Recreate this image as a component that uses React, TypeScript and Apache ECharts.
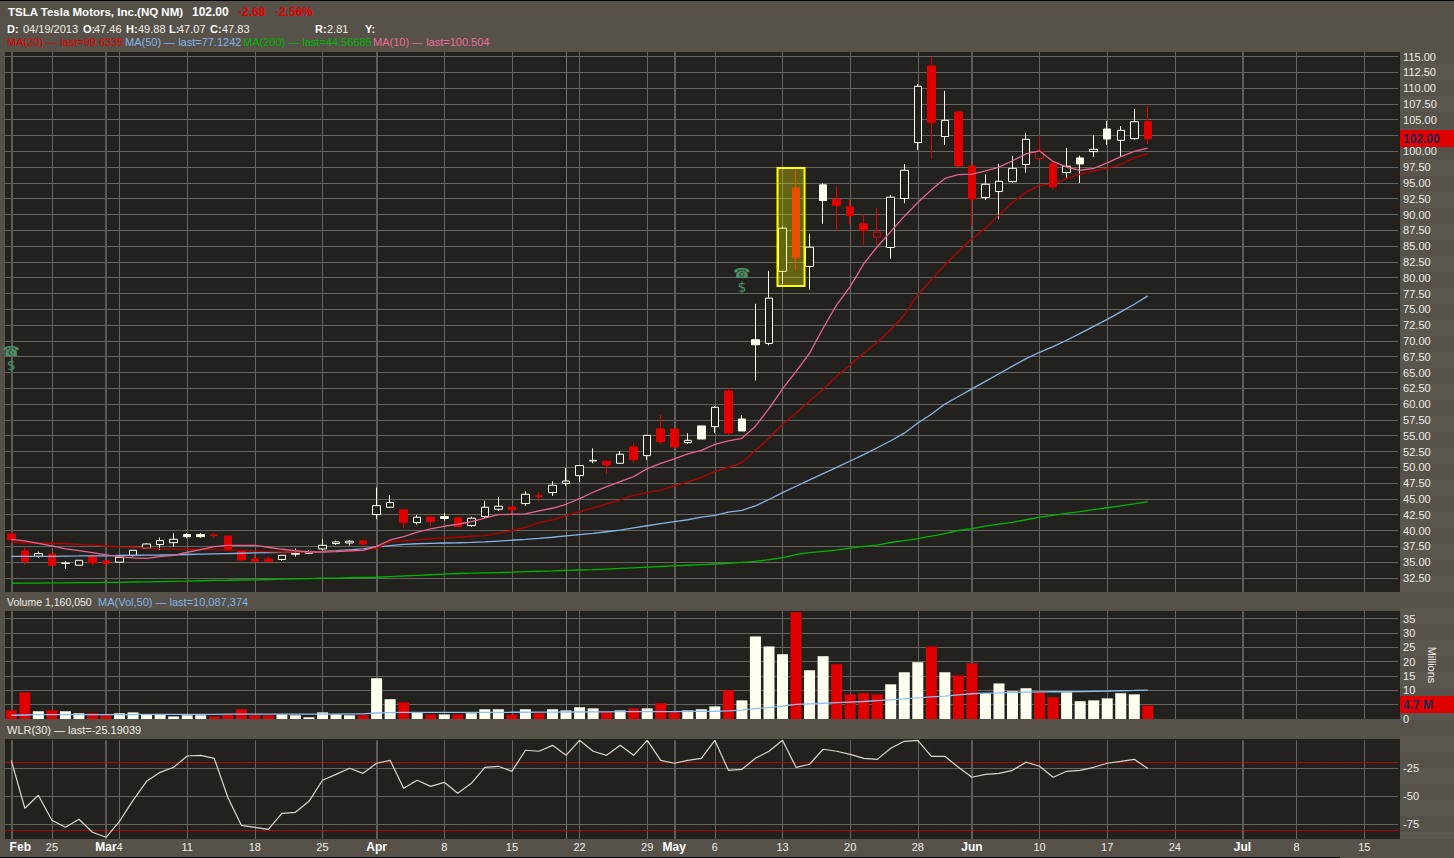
import React, { useEffect, useRef } from "react";
import * as echarts from "echarts";

const tradingDays = [
  "Feb 20","Feb 21","Feb 22","Feb 25","Feb 26","Feb 27","Feb 28","Mar 1","Mar 4","Mar 5",
  "Mar 6","Mar 7","Mar 8","Mar 11","Mar 12","Mar 13","Mar 14","Mar 15","Mar 18","Mar 19",
  "Mar 20","Mar 21","Mar 22","Mar 25","Mar 26","Mar 27","Mar 28","Apr 1","Apr 2","Apr 3",
  "Apr 4","Apr 5","Apr 8","Apr 9","Apr 10","Apr 11","Apr 12","Apr 15","Apr 16","Apr 17",
  "Apr 18","Apr 19","Apr 22","Apr 23","Apr 24","Apr 25","Apr 26","Apr 29","Apr 30","May 1",
  "May 2","May 3","May 6","May 7","May 8","May 9","May 10","May 13","May 14","May 15",
  "May 16","May 17","May 20","May 21","May 22","May 23","May 24","May 28","May 29","May 30",
  "May 31","Jun 3","Jun 4","Jun 5","Jun 6","Jun 7","Jun 10","Jun 11","Jun 12","Jun 13",
  "Jun 14","Jun 17","Jun 18","Jun 19","Jun 20","Jun 21","Jun 24","Jun 25","Jun 26","Jun 27",
  "Jun 28","Jul 1","Jul 2","Jul 3","Jul 5","Jul 8","Jul 9","Jul 10","Jul 11","Jul 12",
  "Jul 15","Jul 16","Jul 17",
];

const tickDays = ["Feb 20","Feb 25","Mar 1","Mar 4","Mar 11","Mar 18","Mar 25","Apr 1","Apr 8","Apr 15","Apr 22","Apr 29","May 1","May 6","May 13","May 20","May 28","Jun 3","Jun 10","Jun 17","Jun 24","Jul 1","Jul 8","Jul 15"];
const tickTexts = ["Feb","25","Mar","4","11","18","25","Apr","8","15","22","29","May","6","13","20","28","Jun","10","17","24","Jul","8","15"];
const monthDays = ["Feb 20","Mar 1","Apr 1","May 1","Jun 3","Jul 1"];
const cursorDay = "Apr 19";

// H hollow white, F filled cream, R filled red, r hollow red
const kinds = "RRHRFHRRHHHHHFFRRRRRHHHHHHRHHRHRFRHHHRHRHHHHRHRHRRHFHRFFHHRHFRRRrHHHRHRRHHHHrRHFHFHHR".split("");

const opens = [
  39.45,36.77,35.92,36.29,34.85,34.5,35.87,35.19,34.98,36.03,
  37.19,37.77,38.08,39.35,39.35,39.3,39.14,36.77,35.5,35.5,
  35.4,36.24,36.4,37.08,37.93,38.03,38.35,42.51,43.68,43.26,
  41.25,42.15,42.2,42,40.78,42.2,43.36,43.73,44.26,45.5,
  46,47.46,48.68,51,50.95,50.64,53.22,51.85,56.06,56.06,
  53.9,56.54,56.43,62.07,57.64,70.18,69.6,81,94.21,81.78,
  94.69,92.42,91.21,88.52,86.41,84.78,92.53,101.38,113.5,102.33,
  106.23,97.69,92.69,93.63,95.2,97.9,98.84,98.1,96.63,98.95,
  99.95,103.53,101.74,102,104.68,
];
const closes = [
  38.51,35.13,36.35,34.45,34.8,35.29,34.87,34.82,35.76,36.87,
  37.87,38.4,38.61,39.03,39.03,39.2,36.93,35.34,35.13,35.13,
  36.08,36.35,36.66,37.66,38.19,38.3,37.87,43.93,44.42,41.25,
  42.1,41.41,41.9,40.62,41.94,43.68,43.84,43.31,45.73,45.4,
  47.16,47.83,50.27,51.1,50.37,52.06,51.2,55.06,54.06,53.22,
  54.27,54.48,59.49,55.43,55.75,69.39,76.77,87.84,83.15,84.83,
  92.21,91.42,89.84,87.47,87.2,92.74,97,110.29,104.54,104.9,
  97.69,92.47,94.79,95.26,97.31,101.9,100,94.36,97.63,98,
  100.32,101.95,103.32,104.68,102,
];
const lows = [
  38.5,34.55,35.66,34.45,33.92,34.5,34.45,34.24,34.98,35.87,
  37.1,36.92,37.45,38.77,38.87,38.87,36.66,35.3,35.13,35.13,
  35.18,35.87,36.34,36.82,37.7,37.6,37.7,41.77,43.57,40.36,
  40.94,40.57,41.57,40.5,40.57,41.94,43.1,42.57,43.89,44.57,
  45.47,47.07,47.68,50.64,48.95,50.64,50.74,51.16,53.69,53.22,
  53.69,54.48,55.48,55.11,55.75,63.75,69.29,79,81.14,78.09,
  88.52,87.41,88.52,85.2,85.2,83,91.79,100.22,98.8,101,
  97.48,88.2,92.3,89.3,95,96.63,98.84,93.94,95.79,95,
  99.1,101,99.1,101.85,101.16,
];
const highs = [
  39.72,37.56,36.66,36.29,35.19,35.29,36.24,35.19,35.76,36.87,
  37.98,38.87,39.56,39.56,39.6,39.6,39.14,36.93,36.29,35.87,
  36.08,37.14,36.93,38.61,38.4,38.5,38.4,46.8,45.58,43.26,
  42.47,42.15,42.73,42,42.2,44.68,45.31,43.73,46.21,46.05,
  47.79,49.88,50.27,53,51.16,52.58,53.8,55.06,58.28,56.06,
  55.38,56.54,59.7,62.5,58.28,75.87,81.09,88.1,97.06,86.94,
  94.95,94.53,92.42,90.1,91.05,93.1,98,110.66,114.9,109.55,
  106.44,97.69,96.37,98,99.27,102.9,102.48,98.1,100.53,99.32,
  102.59,104.8,104,106.7,107.17,
];

const ma10 = [
  38.6,38.35,37.98,37.56,37.08,36.8,36.5,36.13,35.87,35.66,
  35.6,35.87,36.08,36.56,36.98,37.45,37.66,37.66,37.66,37.35,
  37.03,36.82,36.6,36.6,36.66,36.77,36.87,37.5,38.5,39.04,
  39.73,40.25,40.67,40.99,41.41,41.94,42.52,42.57,42.62,43.1,
  43.52,44.15,45.05,46.05,46.95,47.74,48.53,49.79,50.63,51.32,
  52.11,52.69,53.64,54.17,54.59,56.5,59.3,62.4,65.18,68.07,
  72,75.7,78.6,82.2,84.9,87.3,89.7,91.9,93.9,95.7,
  96.3,96.4,96.9,97.5,98.5,99.6,100.05,98.4,97.5,97,
  97.3,98.16,99.16,100,100.5,
];
const ma20 = [
  38.14,38.1,38.02,37.98,37.9,37.8,37.7,37.55,37.4,37.35,
  37.2,37.1,37.05,37,37,36.95,36.9,36.85,36.75,36.65,
  36.6,36.6,36.6,36.65,36.7,36.75,36.9,37.2,38.2,38.35,
  38.5,38.67,38.83,38.93,39.09,39.2,39.57,40,40.5,41.25,
  41.68,42.36,43,43.57,44.2,44.84,45.57,46,46.4,47.05,
  47.68,48.37,49.37,50,50.74,52.7,54.6,56.8,58.6,60.5,
  62.3,64.4,66.2,68.07,69.76,71.76,74.1,77.3,79.7,82,
  84.15,86.15,87.84,89.9,91.9,93.5,94.6,94.8,95.7,96.4,
  96.9,97.3,97.95,98.95,99.63,
];
const ma50 = [
  35.9,35.9,35.9,35.92,35.95,35.97,36,36,36.05,36.08,
  36.1,36.12,36.15,36.2,36.25,36.3,36.35,36.4,36.45,36.5,
  36.55,36.6,36.65,36.7,36.8,36.95,37.1,37.4,37.6,37.8,
  37.9,37.97,38.02,38.06,38.12,38.2,38.33,38.46,38.6,38.75,
  38.93,39.15,39.35,39.55,39.8,40.05,40.4,40.75,41.1,41.4,
  41.7,42.1,42.4,42.9,43.2,43.9,44.9,46,47,48,
  49,50,51,52,53.1,54.2,55.4,57,58.4,60,
  61.2,62.4,63.6,64.8,66,67.2,68.2,69.1,70.1,71.2,
  72.3,73.4,74.6,75.8,77.12,
];
const ma200 = [
  31.65,31.66,31.68,31.7,31.72,31.74,31.76,31.78,31.8,31.85,
  31.88,31.92,31.96,32,32.05,32.1,32.13,32.17,32.2,32.25,
  32.3,32.35,32.4,32.45,32.48,32.52,32.56,32.6,32.7,32.8,
  32.9,33,33.1,33.2,33.25,33.3,33.35,33.4,33.48,33.55,
  33.6,33.68,33.75,33.8,33.9,34,34.1,34.2,34.3,34.4,
  34.5,34.6,34.7,34.8,34.95,35.1,35.4,35.7,36.2,36.5,
  36.7,36.9,37.2,37.5,37.7,38.1,38.4,38.7,39.1,39.5,
  40,40.3,40.7,41,41.3,41.7,42.1,42.4,42.7,43,
  43.3,43.6,43.9,44.2,44.57,
];

const volumes = [
  3,9.3,2.7,3,2.7,2,2,1.3,2,2.3,
  1.6,1.6,0.9,1.3,1.3,0.9,1.6,3.4,1.3,1.3,
  1.6,1.3,0.6,2.3,1.6,1.3,1.3,14.2,6.9,5.8,
  2.3,1.6,1.6,1.6,2,3.4,3.4,1.6,3.4,2,
  3.4,3,4.1,3.7,2.3,3,3.7,3.7,5.5,2.3,
  3,3.4,4.4,10,6.5,28.8,25.3,22.6,37.2,17,
  21.9,19.1,8.6,9,8.6,12.1,16.3,19.8,25.3,16.3,
  15.2,19.4,9,12.4,9.7,10.7,9.3,7.6,9.3,6.2,
  6.5,7.2,9,8.6,4.7,
];
const volumeMa = [
  1.3,1.4,1.5,1.5,1.5,1.5,1.5,1.5,1.5,1.5,
  1.6,1.6,1.6,1.6,1.6,1.6,1.7,1.7,1.7,1.7,
  1.7,1.7,1.7,1.7,1.7,1.8,1.8,2.1,2.2,2.3,
  2.3,2.3,2.3,2.3,2.3,2.3,2.3,2.35,2.35,2.4,
  2.4,2.45,2.45,2.5,2.5,2.55,2.55,2.6,2.6,2.6,
  2.65,2.65,2.7,2.8,3.1,3.6,4,4.5,5.1,5.3,
  5.5,5.7,5.9,6.1,6.4,6.7,7,7.4,7.7,8,
  8.4,8.8,9,9.1,9.3,9.4,9.45,9.5,9.5,9.55,
  9.65,9.75,9.85,9.95,10.09,
];
const wlr = [
  -17.9,-60.7,-49.1,-71.4,-77.7,-70.5,-82.1,-86.6,-72.3,-53.6,
  -36.6,-28.6,-24.1,-14,-13.4,-16.1,-50.9,-75.9,-77.7,-79.5,
  -65.2,-64.3,-54.5,-35.7,-30.4,-25,-29.5,-20.5,-17.9,-42.9,
  -35.7,-41.1,-37.5,-47.3,-38.4,-24.1,-23.2,-27.7,-8.9,-9.8,
  -4.5,-13.4,0,-9.8,-13.4,-4.5,-13.4,0,-17.9,-20.5,
  -17.9,-16.1,0,-26.8,-25.9,-16.1,-9.8,0,-24.1,-21.4,
  -8,-9.8,-12.5,-16.1,-17,-7.1,-0.9,0,-14.3,-14.3,
  -24.1,-33,-30.4,-29.5,-26.8,-19.6,-23.2,-33,-27.7,-26.8,
  -24.1,-20.5,-18.8,-17,-25.19,
];
const wlrLevels = [-20, -80];
// [first day, last day, top price, bottom price]
const highlightBox = [["May 13", "May 14", 97.35, 78.7]];
// [day, price] of the news and earnings flags
const flagPoints = [["Feb 20", 67.3], ["May 8", 79.6]];

const FONT = "Liberation Sans";
const BAND = "#56524a";
const BAND_LIGHT = "#5b574f";
const PANEL = "#23211d";
const GRID = "#646461";
const RED = "#e00000";
const CREAM = "#fffff0";
const LIGHT = "#eeeee6";
const BLUE = "#86b4e8";
const PINK = "#ee6a9a";
const GREEN = "#00b400";

const candleStyle = (k: string) => {
  const line = k === "R" || k === "r" ? RED : CREAM;
  const fill = k === "H" || k === "r" ? PANEL : line;
  return { color: fill, color0: fill, borderColor: line, borderColor0: line, borderWidth: 1 };
};

const verticals = (): any[] => {
  const lines: any[] = tickDays.map((d) => {
    const month = monthDays.includes(d);
    return { xAxis: d, lineStyle: { color: month ? "#5c5c5a" : GRID, width: month ? 2 : 1, type: "solid" } };
  });
  lines.push({ xAxis: cursorDay, lineStyle: { color: "#777774", width: 1, type: "solid" } });
  return lines;
};

const vMarkLine = (extra: any[] = []) => ({
  silent: true,
  symbol: ["none", "none"],
  label: { show: false },
  z: 1,
  animation: false,
  data: [...verticals(), ...extra],
});

const txt = (text: string, x: number, y: number, fill: string, bold = false, size = 11) => ({
  type: "text",
  z: 7,
  x,
  y,
  silent: true,
  style: { text, fill, fontFamily: FONT, fontSize: size, fontWeight: bold ? "bold" : "normal", verticalAlign: "middle", align: "left" },
});

const rect = (x: number, y: number, width: number, height: number, fill: string, z: number) => ({
  type: "rect",
  z,
  silent: true,
  shape: { x, y, width, height },
  style: { fill },
});

function buildGraphic() {
  const stripes: any[] = [];
  for (let y = 64; y < 858; y += 32) stripes.push(rect(1400, y, 54, 16, BAND_LIGHT, -3));
  return [
    rect(0, 0, 1454, 858, BAND, -4),
    ...stripes,
    rect(5, 52, 1395, 540, PANEL, -2),
    rect(5, 611, 1395, 108, PANEL, -2),
    rect(5, 739, 1395, 100, PANEL, -2),
    rect(0, 592, 1400, 3, BAND, 5),
    rect(0, 839, 1454, 19, BAND, 5),
    rect(0, 0, 1454, 1, "#000000", 6),
    rect(0, 857, 1340, 1, "#000000", 6),
    rect(1400, 130, 54, 17, RED, 5),
    rect(1400, 696, 54, 17, RED, 5),
    txt("102.00", 1403, 139, "#1f2a55", true, 12),
    txt("4.7 M", 1403, 705, "#1f2a55", true, 12),

    txt("TSLA Tesla Motors, Inc.(NQ NM)", 8, 12, "#ffffff", true, 11.5),
    txt("102.00", 192, 12, "#ffffff", true, 12),
    txt("-2.68", 238, 12, RED, true, 12),
    txt("-2.56%", 275, 12, RED, true, 12),

    txt("D:", 7, 29, "#ffffff", true),
    txt("04/19/2013", 23, 29, LIGHT),
    txt("O:", 83, 29, "#ffffff", true),
    txt("47.46", 94, 29, LIGHT),
    txt("H:", 126, 29, "#ffffff", true),
    txt("49.88", 138, 29, LIGHT),
    txt("L:", 169, 29, "#ffffff", true),
    txt("47.07", 178, 29, LIGHT),
    txt("C:", 210, 29, "#ffffff", true),
    txt("47.83", 222, 29, LIGHT),
    txt("R:", 315, 29, "#ffffff", true),
    txt("2.81", 327, 29, LIGHT),
    txt("Y:", 365, 29, "#ffffff", true),

    txt("MA(20) \u2014 last=99.6335", 7, 42, RED),
    txt("MA(50) \u2014 last=77.1242", 125, 42, BLUE),
    txt("MA(200) \u2014 last=44.56685", 243, 42, GREEN),
    txt("MA(10) \u2014 last=100.504", 373, 42, PINK),

    txt("Volume 1,160,050", 7, 602, LIGHT, false, 10.5),
    txt("MA(Vol,50) \u2014 last=10,087,374", 98, 602, BLUE),
    txt("WLR(30) \u2014 last=-25.19039", 7, 730, LIGHT),
  ];
}

const maLine = (name: string, data: number[], color: string) => ({
  name,
  type: "line",
  data,
  xAxisIndex: 0,
  yAxisIndex: 0,
  showSymbol: false,
  symbol: "none",
  z: 4,
  silent: true,
  lineStyle: { color, width: 1.3 },
});

function buildOption(): any {
  const UNIT = 13.53;
  const gridLeft = 4.53;
  const gridWidth = UNIT * tradingDays.length;
  const grid = (top: number, height: number) => ({ left: gridLeft, width: gridWidth, top, height, show: false, containLabel: false });
  const baseX = (gridIndex: number) => ({
    type: "category",
    gridIndex,
    data: tradingDays,
    boundaryGap: true,
    show: false,
    axisTick: { show: false },
    axisLine: { show: false },
    splitLine: { show: false },
  });
  const baseY = (gridIndex: number, min: number, max: number, interval: number, formatter: (v: number) => string, extra: any = {}) => ({
    type: "value",
    gridIndex,
    position: "right",
    min,
    max,
    interval,
    scale: false,
    axisLine: { show: false },
    axisTick: { show: false },
    splitLine: { show: true, showMinLine: false, showMaxLine: false, lineStyle: { color: GRID, width: 1 } },
    axisLabel: { color: LIGHT, fontFamily: FONT, fontSize: 11, margin: 5, showMinLabel: false, showMaxLabel: false, formatter },
    ...extra,
  });
  // the 102.50 and 5 ticks sit under the last-value boxes, so they carry no text
  const priceLabel = (v: number) => (v >= 32.5 && v <= 115 && v !== 102.5 ? v.toFixed(2) : "");
  const volumeLabel = (v: number) => (v % 5 === 0 && v <= 35 && v !== 5 ? String(v) : "");

  return {
    animation: false,
    backgroundColor: BAND,
    textStyle: { fontFamily: FONT },
    grid: [grid(51.76, 541.94), grid(611, 108), grid(740.3, 112)],
    xAxis: [
      baseX(0),
      baseX(1),
      {
        ...baseX(2),
        show: true,
        z: 10,
        axisLabel: {
          show: true,
          margin: -11,
          interval: (_: number, value: string) => tickDays.includes(value),
          formatter: (value: string) => {
            const t = tickTexts[tickDays.indexOf(value)];
            if (value === tickDays[0]) return `{first|${t}}`;
            return monthDays.includes(value) ? `{m|${t}}` : t;
          },
          color: LIGHT,
          fontFamily: FONT,
          fontSize: 11,
          rich: {
            m: { color: "#ffffff", fontWeight: "bold", fontFamily: FONT, fontSize: 12 },
            first: { color: "#ffffff", fontWeight: "bold", fontFamily: FONT, fontSize: 12, padding: [0, 0, 0, 18] },
          },
        },
      },
    ],
    yAxis: [
      baseY(0, 30, 115.75, 2.5, priceLabel),
      baseY(1, 0, 37.67, 5, volumeLabel, {
        name: "Millions",
        nameLocation: "middle",
        nameRotate: -90,
        nameGap: 17,
        nameTextStyle: { color: LIGHT, fontFamily: FONT, fontSize: 11 },
        axisLabel: { color: LIGHT, fontFamily: FONT, fontSize: 11, margin: 5, showMinLabel: true, showMaxLabel: false, formatter: volumeLabel },
      }),
      baseY(2, -100, 0, 25, (v) => (v < 0 && v > -100 ? String(v) : "")),
    ],
    graphic: buildGraphic(),
    series: [
      {
        name: "TSLA",
        type: "candlestick",
        xAxisIndex: 0,
        yAxisIndex: 0,
        barWidth: 8,
        z: 2,
        silent: true,
        data: opens.map((o, i) => ({ value: [o, closes[i], lows[i], highs[i]], itemStyle: candleStyle(kinds[i]) })),
        markLine: vMarkLine(),
        markPoint: {
          silent: true,
          symbol: "circle",
          symbolSize: 1,
          itemStyle: { color: "rgba(0,0,0,0)" },
          animation: false,
          label: { show: true, position: "inside", formatter: "\u260e\n$", color: "#4d8c66", fontFamily: "DejaVu Sans", fontSize: 14, lineHeight: 14 },
          data: flagPoints.map(([d, p]) => ({ coord: [d, p] })),
        },
      },
      maLine("MA(200)", ma200, GREEN),
      maLine("MA(50)", ma50, BLUE),
      maLine("MA(20)", ma20, "#b80000"),
      maLine("MA(10)", ma10, "#e6648f"),
      {
        name: "highlight",
        type: "custom",
        xAxisIndex: 0,
        yAxisIndex: 0,
        z: 3,
        silent: true,
        clip: false,
        encode: { x: [0, 1], y: [2, 3] },
        data: highlightBox,
        renderItem: (_: any, api: any) => {
          const a = api.coord([api.value(0), api.value(2)]);
          const b = api.coord([api.value(1), api.value(3)]);
          return {
            type: "rect",
            shape: { x: a[0] - 5, y: a[1], width: b[0] - a[0] + 13.5, height: b[1] - a[1] },
            style: { fill: "rgba(255,255,0,0.3)", stroke: "#ffff00", lineWidth: 2 },
          };
        },
      },
      {
        name: "Volume",
        type: "bar",
        xAxisIndex: 1,
        yAxisIndex: 1,
        barWidth: 11,
        z: 2,
        silent: true,
        data: volumes.map((v, i) => ({ value: v, itemStyle: { color: kinds[i] === "R" || kinds[i] === "r" ? RED : CREAM } })),
        markLine: vMarkLine(),
      },
      {
        name: "MA(Vol,50)",
        type: "line",
        xAxisIndex: 1,
        yAxisIndex: 1,
        data: volumeMa,
        symbol: "none",
        z: 4,
        silent: true,
        lineStyle: { color: "#8cc0f0", width: 1.3 },
      },
      {
        name: "WLR(30)",
        type: "line",
        xAxisIndex: 2,
        yAxisIndex: 2,
        data: wlr,
        symbol: "none",
        z: 4,
        silent: true,
        clip: false,
        lineStyle: { color: "#d8d8cc", width: 1.2 },
        markLine: vMarkLine(
          wlrLevels.map((v) => ({ yAxis: v, lineStyle: { color: "#e00000", width: 1, type: [2, 1] } }))
        ),
      },
    ],
  };
}

export default function App() {
  const ref = useRef<HTMLDivElement>(null);
  useEffect(() => {
    document.body.style.margin = "0";
    const chart = echarts.init(ref.current!, null, { renderer: "svg" });
    chart.setOption(buildOption());
    return () => chart.dispose();
  }, []);
  return <div ref={ref} style={{ position: "absolute", left: 0, top: 0, width: 1454, height: 858 }} />;
}
